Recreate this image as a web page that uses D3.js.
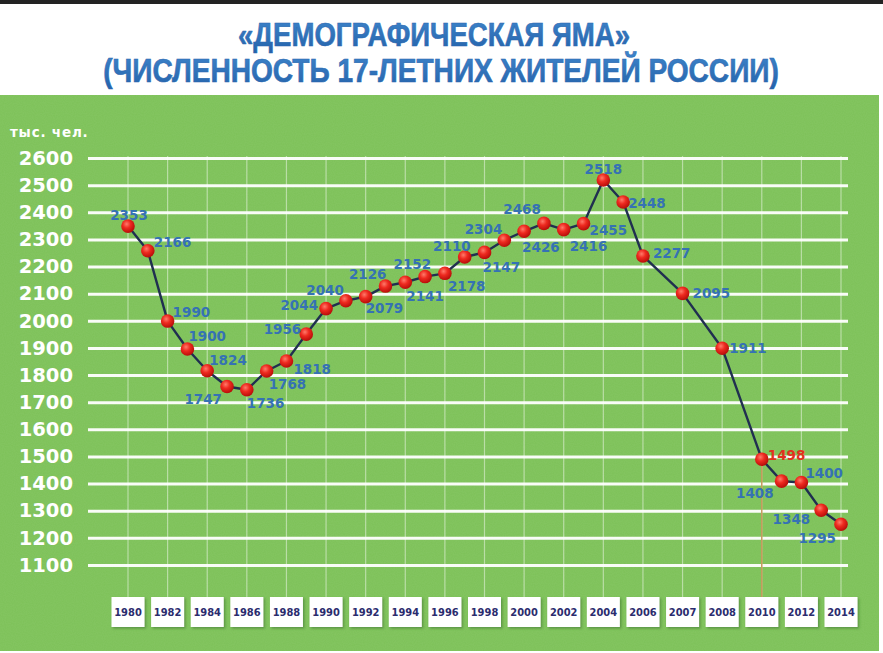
<!DOCTYPE html>
<html><head><meta charset="utf-8">
<script src="https://cdn.jsdelivr.net/npm/d3@7/dist/d3.min.js"></script>
<style>
html,body{margin:0;padding:0;background:#fff;overflow:hidden}
svg{display:block}
</style></head>
<body>
<svg id="c" width="883" height="653"></svg>
<script>
// ---- data ----
const titleLines = ["«ДЕМОГРАФИЧЕСКАЯ ЯМА»", "(ЧИСЛЕННОСТЬ 17-ЛЕТНИХ ЖИТЕЛЕЙ РОССИИ)"];
const unitLabel = "тыс. чел.";
const tickYears = [1980,1982,1984,1986,1988,1990,1992,1994,1996,1998,2000,2002,2004,2006,2007,2008,2010,2012,2014];
const yTicks = [1100,1200,1300,1400,1500,1600,1700,1800,1900,2000,2100,2200,2300,2400,2500,2600];
const years = [1980,1981,1982,1983,1984,1985,1986,1987,1988,1989,1990,1991,1992,1993,1994,1995,1996,1997,1998,1999,2000,2001,2002,2003,2004,2005,2006,2007,2008,2010,2011,2012,2013,2014];
const values = [2349,2258,1999,1896,1816,1758,1746,1815,1852,1951,2045,2074,2089,2128,2142,2163,2175,2235,2252,2297,2330,2359,2336,2358,2519,2438,2239,2101,1899,1490,1409,1404,1302,1250];
const labels = ["2353","2166","1990","1900","1824","1747","1736","1768","1818","1956","2044","2040","2079","2126","2141","2152","2178","2110","2147","2304","2426","2468","2416","2455","2518","2448","2277","2095","1911","1498","1408","1400","1348","1295"];
const highlightYear = 2010;

// ---- label placement (style, relative to each point) ----
const labelPlace = [
 ["middle",1,-11],["start",6,-9],["start",5,-9],["start",1,-13],["start",2,-11],
 ["end",-5,13],["start",0,13],["start",2,13],["start",7,8],["end",-5,-5],
 ["end",-8,-4],["end",-2,-11],["start",0,11],["end",1,-12],["start",1,14],
 ["end",6,-13],["start",3,13],["end",6,-11],["start",-2,15],["end",-2,-11],
 ["start",-2,16],["end",-3,-14],["start",6,16],["start",6,6],["middle",0,-11],
 ["start",5,1],["start",10,-3],["start",10,0],["start",7,0],["start",6,-4],
 ["end",-8,12],["start",4,-10],["end",-11,9],["end",-5,14]
];

const svg = d3.select("#c");
const W = 883, H = 653;

// defs
const defs = svg.append("defs");
const rg = defs.append("radialGradient").attr("id","ball").attr("cx","40%").attr("cy","35%").attr("r","65%");
rg.append("stop").attr("offset","0%").attr("stop-color","#ff7a6a");
rg.append("stop").attr("offset","45%").attr("stop-color","#ee2a20");
rg.append("stop").attr("offset","100%").attr("stop-color","#b80e0a");
const tg = defs.append("linearGradient").attr("id","tgrad").attr("x1",0).attr("y1",0).attr("x2",0).attr("y2",1);
tg.append("stop").attr("offset","0%").attr("stop-color","#3f86cc");
tg.append("stop").attr("offset","100%").attr("stop-color","#2462aa");
const f = defs.append("filter").attr("id","noise").attr("x",0).attr("y",0).attr("width","100%").attr("height","100%");
f.append("feTurbulence").attr("type","fractalNoise").attr("baseFrequency","0.9").attr("numOctaves",1).attr("seed",3).attr("result","n");
f.append("feColorMatrix").attr("in","n").attr("type","matrix")
 .attr("values","0 0 0 0 0.45  0 0 0 0 0.72  0 0 0 0 0.3  0 0 0 0.14 0").attr("result","nc");
f.append("feComposite").attr("in","nc").attr("in2","SourceGraphic").attr("operator","atop");
const sh = defs.append("filter").attr("id","shadow").attr("x","-20%").attr("y","-20%").attr("width","150%").attr("height","150%");
sh.append("feDropShadow").attr("dx",1.5).attr("dy",1.5).attr("stdDeviation",1).attr("flood-color","#2f5a20").attr("flood-opacity",0.45);

// background
svg.append("rect").attr("x",0).attr("y",0).attr("width",W).attr("height",H).attr("fill","#ffffff");
svg.append("rect").attr("x",0).attr("y",0).attr("width",W).attr("height",4).attr("fill","#232323");
svg.append("rect").attr("x",0).attr("y",95).attr("width",879).attr("height",556).attr("fill","#7cc157").attr("filter","url(#noise)");

// title (condensed via horizontal scale to target widths)
const titleCfg = [{cx:434, y:46, w:392}, {cx:441, y:82, w:676}];
titleLines.forEach((t,i)=>{
  const g = svg.append("g");
  const tx = g.append("text").text(t)
   .attr("x",0).attr("y",0).attr("text-anchor","middle")
   .attr("font-family","'Liberation Sans Narrow','Liberation Sans',Arial,sans-serif")
   .attr("font-weight","bold").attr("font-size",33)
   .attr("fill","url(#tgrad)").attr("stroke","#2a68b0").attr("stroke-width",0.6);
  const nat = tx.node().getComputedTextLength();
  const sx = Math.min(1, titleCfg[i].w / nat);
  g.attr("transform",`translate(${titleCfg[i].cx},${titleCfg[i].y}) scale(${sx},1)`);
});

// scales
const xs = d3.scalePoint().domain(tickYears).range([128,841]);
function xOf(y){
  if (tickYears.includes(y)) return xs(y);
  const i = d3.bisectLeft(tickYears, y);
  return (xs(tickYears[i-1]) + xs(tickYears[i]))/2;
}
const ys = d3.scaleLinear().domain([1100,2600]).range([565,158]);

// vertical faint lines
svg.append("g").selectAll("line").data(tickYears).join("line")
  .attr("x1",d=>xs(d)).attr("x2",d=>xs(d))
  .attr("y1",ys(2600)-2).attr("y2",597)
  .attr("stroke","rgba(255,255,255,0.45)").attr("stroke-width",1.2);

// y axis with gridlines
const gy = svg.append("g").attr("transform","translate(88,0)")
  .call(d3.axisLeft(ys).tickValues(yTicks).tickSize(-760).tickPadding(15).tickFormat(d3.format("d")));
gy.select(".domain").remove();
gy.selectAll(".tick line").attr("stroke","#ffffff").attr("stroke-width",3).attr("stroke-opacity",0.95);
gy.selectAll(".tick text").attr("fill","#ffffff")
  .attr("font-family","'DejaVu Sans',Verdana,sans-serif").attr("font-weight","bold").attr("font-size",19.5);

svg.append("text").text(unitLabel).attr("x",10).attr("y",137)
  .attr("font-family","'DejaVu Sans',Verdana,sans-serif").attr("font-weight","bold").attr("font-size",13.5)
  .attr("letter-spacing",0.8).attr("fill","#ffffff");

// highlight vertical line
const hi = years.indexOf(highlightYear);
svg.append("line").attr("x1",xOf(highlightYear)).attr("x2",xOf(highlightYear))
  .attr("y1",ys(values[hi])).attr("y2",597)
  .attr("stroke","#c79a5c").attr("stroke-width",1.5);

// x axis boxes
const gx = svg.append("g").selectAll("g").data(tickYears).join("g")
  .attr("transform",d=>`translate(${xs(d)},612)`);
gx.append("rect").attr("x",-16.5).attr("y",-15).attr("width",33).attr("height",30)
  .attr("fill","#ffffff").attr("filter","url(#shadow)");
gx.append("text").text(d=>d).attr("text-anchor","middle").attr("dy","0.36em")
  .attr("font-family","'DejaVu Sans Condensed','DejaVu Sans',sans-serif").attr("font-weight","bold").attr("font-size",11)
  .attr("fill","#2b2c6e");

// line
const pts = years.map((y,i)=>({year:y, value:values[i], label:labels[i], place:labelPlace[i]}));
svg.append("path").datum(pts)
  .attr("d", d3.line().x(d=>xOf(d.year)).y(d=>ys(d.value)))
  .attr("fill","none").attr("stroke","#202f50").attr("stroke-width",2.4).attr("stroke-linejoin","round");

// points
svg.append("g").selectAll("circle").data(pts).join("circle")
  .attr("cx",d=>xOf(d.year)).attr("cy",d=>ys(d.value)).attr("r",6.8)
  .attr("fill","url(#ball)");

// labels
svg.append("g").selectAll("text").data(pts).join("text")
  .text(d=>d.label)
  .attr("x",d=>xOf(d.year)+d.place[1]).attr("y",d=>ys(d.value)+d.place[2])
  .attr("text-anchor",d=>d.place[0]).attr("dominant-baseline","central")
  .attr("font-family","'DejaVu Sans',Verdana,sans-serif").attr("font-weight","bold").attr("font-size",13.5)
  .attr("fill",d=>d.year===highlightYear?"#e2321e":"#3572b4");
</script>
</body></html>
